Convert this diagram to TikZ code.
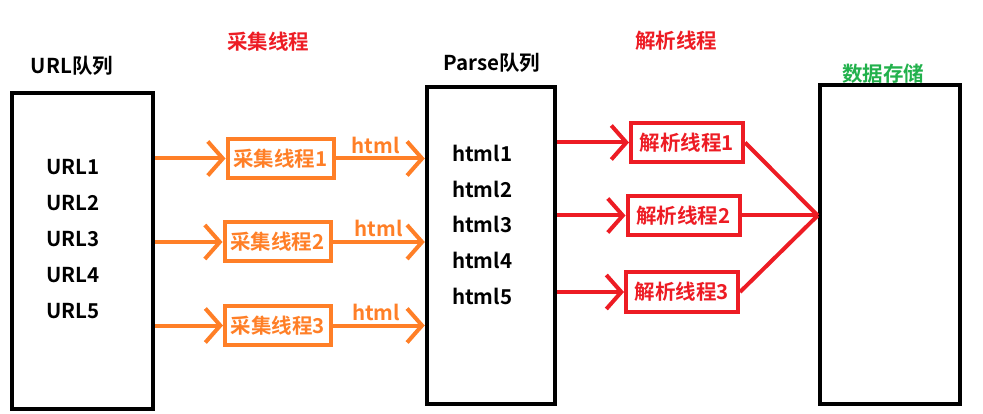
\documentclass[tikz,border=0pt]{standalone}
\usepackage{fontspec}
\setmainfont{Noto Sans CJK SC}[BoldFont={* Bold}]
\usetikzlibrary{arrows.meta}
\definecolor{myorange}{HTML}{FF7F27}
\definecolor{myred}{HTML}{ED1C24}
\definecolor{mygreen}{HTML}{22B14C}
\tikzset{
  bigq/.style={draw=black, line width=4.5pt},
  title/.style={font=\fontsize{20.5}{24}\selectfont\bfseries, inner sep=0pt},
  item/.style={font=\fontsize{20.5}{24}\selectfont\bfseries, inner sep=0pt, anchor=west},
  obox/.style={draw=myorange, line width=4pt, text=myorange, font=\fontsize{20.5}{24}\selectfont\bfseries, minimum width=106pt, minimum height=39pt, inner sep=0pt},
  rbox/.style={draw=myred, line width=4pt, text=myred, font=\fontsize{20.5}{24}\selectfont\bfseries, minimum width=112pt, minimum height=39pt, inner sep=0pt},
  oarr/.style={draw=myorange, line width=4pt, -{Straight Barb[length=15pt,width=34pt,line width=4pt]}},
  rarr/.style={draw=myred, line width=4pt, -{Straight Barb[length=15pt,width=34pt,line width=4pt]}},
  rline/.style={draw=myred, line width=4pt},
  lbl/.style={text=myorange, font=\fontsize{20.5}{24}\selectfont\bfseries, inner sep=0pt},
}
\begin{document}
\begin{tikzpicture}[x=1pt,y=-1pt]
\useasboundingbox (0,0) rectangle (983,414);
% queues
\node[bigq, minimum width=141pt, minimum height=316pt] (urlq) at (82.5,251) {};
\node[bigq, minimum width=128pt, minimum height=317pt] (parse) at (491,245.5) {};
\node[bigq, minimum width=140pt, minimum height=319pt] (store) at (890,244.5) {};
% titles
\node[title] (turl) at (72,66) {URL队列};
\node[title, text=myred] (tcol) at (268,42) {采集线程};
\node[title] (tparse) at (492,63) {Parse队列};
\node[title, text=myred] (tpar) at (676,41) {解析线程};
\node[title, text=mygreen] (tstore) at (883,74) {数据存储};
% URL items
\node[item] (u1) at (46,167) {URL1};
\node[item] (u2) at (46,203) {URL2};
\node[item] (u3) at (46,239) {URL3};
\node[item] (u4) at (46,275) {URL4};
\node[item] (u5) at (46,311) {URL5};
% html items
\node[item] (h1) at (452,153) {html1};
\node[item] (h2) at (452,189) {html2};
\node[item] (h3) at (452,224) {html3};
\node[item] (h4) at (452,260) {html4};
\node[item] (h5) at (452,296) {html5};
% collector threads
\node[obox] (c1) at (280.5,158.5) {采集线程1};
\node[obox] (c2) at (277.5,242) {采集线程2};
\node[obox] (c3) at (278,325.5) {采集线程3};
\draw[oarr] (urlq.east |- c1.west) -- (c1.west);
\draw[oarr] (urlq.east |- c2.west) -- (c2.west);
\draw[oarr] (urlq.east |- c3.west) -- (c3.west);
\draw[oarr] (c1.east) -- (c1.east -| parse.west) node[pos=0.45, above=3pt, lbl] (l1) {html};
\draw[oarr] (c2.east) -- (c2.east -| parse.west) node[pos=0.5, above=3pt, lbl] (l2) {html};
\draw[oarr] (c3.east) -- (c3.east -| parse.west) node[pos=0.47, above=3pt, lbl] (l3) {html};
% parser threads
\node[rbox] (p1) at (687,142.5) {解析线程1};
\node[rbox] (p2) at (683.5,215.5) {解析线程2};
\node[rbox] (p3) at (682,292) {解析线程3};
\draw[rarr] (parse.east |- p1.west) -- (p1.west);
\draw[rarr] (parse.east |- p2.west) -- (p2.west);
\draw[rarr] (parse.east |- p3.west) -- (p3.west);
\coordinate (conv) at (p2.east -| store.west);
\draw[rline] (p1.east) -- (conv);
\draw[rline] (p2.east) -- (conv);
\draw[rline] (p3.east) -- (conv);
\end{tikzpicture}
\end{document}
